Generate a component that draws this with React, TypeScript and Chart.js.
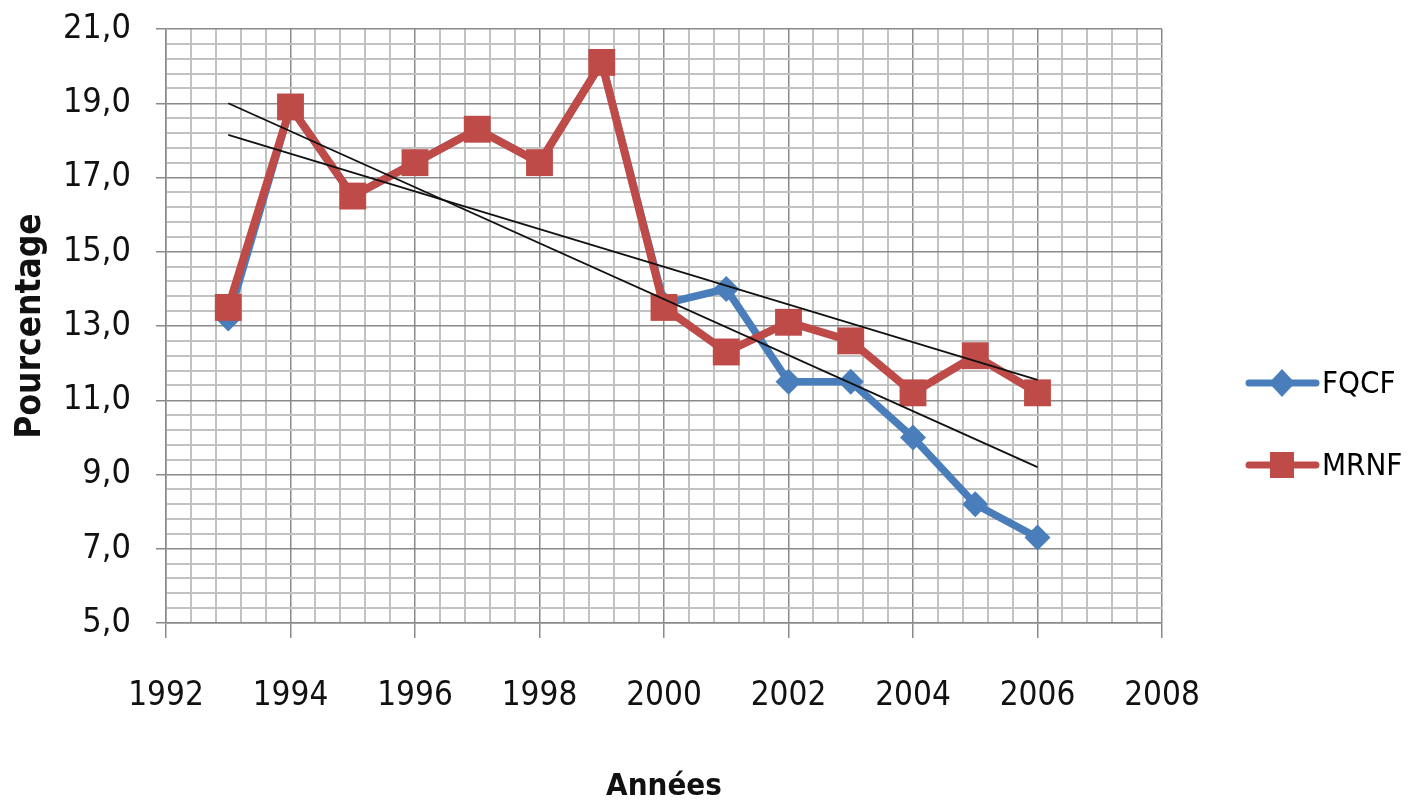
import React, { useEffect, useRef } from "react";
import { Chart, registerables } from "chart.js";

Chart.register(...registerables);

const FONT = '"Liberation Sans Narrow", "Arial Narrow", "DejaVu Sans Condensed", sans-serif';

const years = [1993, 1994, 1995, 1996, 1997, 1998, 1999, 2000, 2001, 2002, 2003, 2004, 2005, 2006];
const fqcf = [13.2, 18.9, 16.5, 17.4, 18.3, 17.4, 20.1, 13.6, 14.0, 11.5, 11.5, 10.0, 8.2, 7.3];
const mrnf = [13.5, 18.9, 16.5, 17.4, 18.3, 17.4, 20.1, 13.5, 12.3, 13.1, 12.6, 11.2, 12.2, 11.2];
const trendYears = [1993, 2006];
const trendFqcf = [19.0, 9.2];
const trendMrnf = [18.15, 11.55];

const seriesNames = ["FQCF", "MRNF"];
const seriesColors = ["#4a7ebb", "#be4b48"];

const X_MIN = 1992, X_MAX = 2008, Y_MIN = 5, Y_MAX = 21, STEP = 0.4;

const isMajorX = (v: number) => Math.abs((v - X_MIN) / 2 - Math.round((v - X_MIN) / 2)) < 1e-6;
const isMajorY = (v: number) => Math.abs((v - Y_MIN) / 2 - Math.round((v - Y_MIN) / 2)) < 1e-6;

const MAJOR = "#8a8a8a";
const MINOR = "#c2c2c2";

const legendPlugin = {
  id: "customLegend",
  afterDraw(chart: any) {
    const ctx = chart.ctx;
    ctx.save();
    const rows = [383, 465];
    rows.forEach((y, i) => {
      const color = seriesColors[i];
      ctx.strokeStyle = color;
      ctx.lineWidth = 7;
      ctx.lineCap = "round";
      ctx.beginPath();
      ctx.moveTo(1249, y);
      ctx.lineTo(1316, y);
      ctx.stroke();
      ctx.fillStyle = color;
      ctx.beginPath();
      if (i === 0) {
        ctx.moveTo(1282, y - 14);
        ctx.lineTo(1295, y);
        ctx.lineTo(1282, y + 14);
        ctx.lineTo(1269, y);
        ctx.closePath();
      } else {
        ctx.rect(1270, y - 13, 24, 26);
      }
      ctx.fill();
      ctx.fillStyle = "#000";
      ctx.font = `31px ${FONT}`;
      ctx.textBaseline = "middle";
      ctx.textAlign = "left";
      ctx.fillText(seriesNames[i], 1322, y + 2);
    });
    ctx.restore();
  },
};

export default function App() {
  const ref = useRef<HTMLCanvasElement | null>(null);
  useEffect(() => {
    if (!ref.current) return;
    Chart.defaults.font.family = FONT;
    const toPts = (xs: number[], ys: number[]) => xs.map((x, i) => ({ x, y: ys[i] }));
    const chart = new Chart(ref.current, {
      type: "line",
      data: {
        datasets: [
          {
            label: "Tendance FQCF",
            data: toPts(trendYears, trendFqcf),
            borderColor: "#111",
            borderWidth: 1.8,
            pointRadius: 0,
            order: 0,
          },
          {
            label: "Tendance MRNF",
            data: toPts(trendYears, trendMrnf),
            borderColor: "#111",
            borderWidth: 1.8,
            pointRadius: 0,
            order: 1,
          },
          {
            label: seriesNames[1],
            data: toPts(years, mrnf),
            borderColor: seriesColors[1],
            backgroundColor: seriesColors[1],
            borderWidth: 8,
            pointStyle: "rect",
            pointRadius: 19,
            pointBorderWidth: 0,
            pointBackgroundColor: seriesColors[1],
            order: 2,
          },
          {
            label: seriesNames[0],
            data: toPts(years, fqcf),
            borderColor: seriesColors[0],
            backgroundColor: seriesColors[0],
            borderWidth: 7.5,
            pointStyle: "rectRot",
            pointRadius: 13,
            pointBorderWidth: 0,
            pointBackgroundColor: seriesColors[0],
            order: 3,
          },
        ],
      },
      options: {
        animation: false,
        responsive: true,
        maintainAspectRatio: false,
        layout: { padding: { left: 0, right: 252, top: 29, bottom: 0 } },
        plugins: { legend: { display: false }, tooltip: { enabled: false } },
        elements: { line: { tension: 0 } },
        scales: {
          x: {
            type: "linear",
            min: X_MIN,
            max: X_MAX,
            afterFit: (s: any) => {
              s.height = 183;
              s.paddingLeft = 0;
              s.paddingRight = 0;
            },
            ticks: {
              stepSize: STEP,
              autoSkip: false,
              maxRotation: 0,
              padding: 39,
              color: "#111",
              font: { size: 33 },
              callback: (v: any) => (isMajorX(Number(v)) ? String(Math.round(Number(v))) : ""),
            },
            grid: {
              color: (c: any) => (isMajorX(c.tick.value) ? MAJOR : MINOR),
              lineWidth: (c: any) => (isMajorX(c.tick.value) ? 1.5 : 2),
              tickColor: (c: any) => (isMajorX(c.tick.value) ? MAJOR : "rgba(0,0,0,0)"),
              tickLength: 15,
            },
            border: { color: MAJOR, width: 1.5 },
            title: {
              display: true,
              text: "Années",
              color: "#111",
              font: { size: 31, weight: "bold" },
              padding: { top: 0, bottom: 0 },
            },
          },
          y: {
            type: "linear",
            min: Y_MIN,
            max: Y_MAX,
            afterFit: (s: any) => {
              s.width = 166;
              s.paddingTop = 0;
              s.paddingBottom = 0;
            },
            ticks: {
              stepSize: STEP,
              autoSkip: false,
              padding: 25,
              color: "#111",
              font: { size: 34 },
              callback: (v: any) => (isMajorY(Number(v)) ? Number(v).toFixed(1).replace(".", ",") : ""),
            },
            grid: {
              color: (c: any) => (isMajorY(c.tick.value) ? MAJOR : MINOR),
              lineWidth: (c: any) => (isMajorY(c.tick.value) ? 1.5 : 2),
              tickColor: (c: any) => (isMajorY(c.tick.value) ? MAJOR : "rgba(0,0,0,0)"),
              tickLength: 10,
            },
            border: { color: MAJOR, width: 1.5 },
            title: {
              display: true,
              text: "Pourcentage",
              color: "#111",
              font: { size: 35, weight: "bold" },
              padding: { top: 10, bottom: 0 },
            },
          },
        },
      },
      plugins: [legendPlugin],
    });
    return () => chart.destroy();
  }, []);
  return (
    <div style={{ position: "fixed", left: 0, top: 0, width: 1414, height: 806, background: "#fff" }}>
      <canvas ref={ref} />
    </div>
  );
}
